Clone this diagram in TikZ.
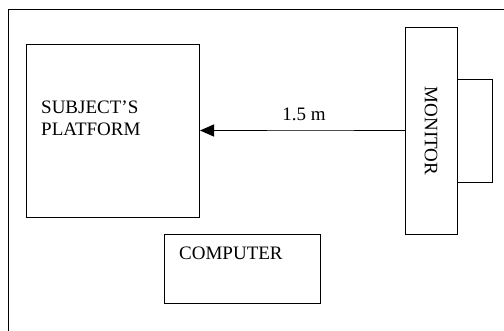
\documentclass[tikz,border=0pt]{standalone}
\usepackage{fontspec}
\setmainfont{Liberation Serif}
\usetikzlibrary{arrows.meta}
\begin{document}
\begin{tikzpicture}[x=1pt,y=-1pt,
  box/.style={draw,line width=1pt,inner sep=0pt},
  lbl/.style={inner sep=0pt,font=\fontsize{19}{22}\selectfont}]
\useasboundingbox (0,0) rectangle (504,331);
\clip (0,0) rectangle (504,331);
% outer frame (runs off the right and bottom edges)
\draw[line width=1pt] (8.5,340) -- (8.5,9.5) -- (515,9.5);
% platform
\node[box,minimum width=173pt,minimum height=173pt,anchor=north west] (plat) at (26,44) {};
\node[lbl,anchor=base west] (subj) at (41,114) {SUBJECT’S};
\node[lbl,anchor=base west] (platf) at (41,136) {PLATFORM};
% monitor
\node[box,minimum width=52pt,minimum height=207pt,anchor=north west] (mon) at (405,27) {};
\node[box,minimum width=35pt,minimum height=103pt,anchor=north west] (stand) at (457,79) {};
\node[lbl,rotate=-90,anchor=center] (montxt) at (431,131) {MONITOR};
% computer
\node[box,minimum width=156pt,minimum height=69pt,anchor=north west] (comp) at (164,234) {};
\node[lbl,anchor=base west] (comptxt) at (179,260) {COMPUTER};
% distance arrow
\coordinate (a1) at (267,130.5);
\coordinate (a2) at (354,130.5);
\draw[line width=1.3pt] (mon.west |- a1) -- (a2);
\draw[line width=0.6pt,black!70] (a2) -- (a1);
\draw[line width=1.3pt,-{Triangle[length=14pt,width=12pt]}] (a1) -- (plat.east |- a1);
\node[lbl,anchor=base] (dist) at (304,121) {1.5 m};
\end{tikzpicture}
\end{document}
